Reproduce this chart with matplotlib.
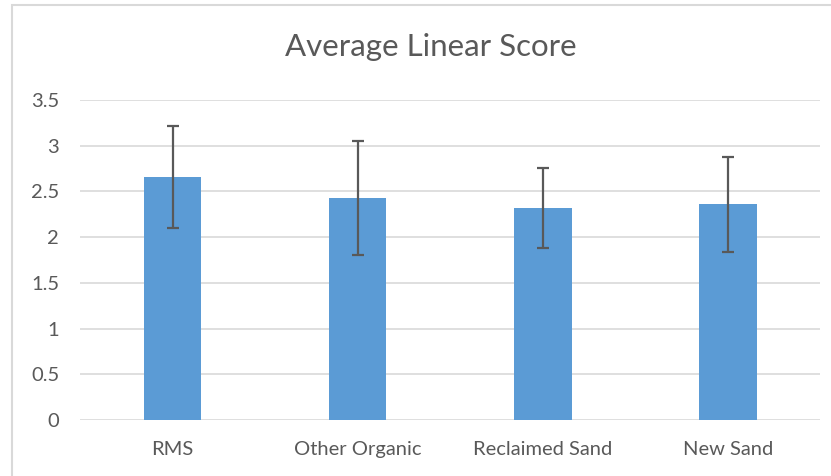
import matplotlib
matplotlib.use("Agg")
import matplotlib.pyplot as plt
from matplotlib.patches import Rectangle

categories = ["RMS", "Other Organic", "Reclaimed Sand", "New Sand"]
means = [2.66, 2.43, 2.32, 2.36]
errors = [0.56, 0.62, 0.44, 0.52]
yticks = [0, 0.5, 1, 1.5, 2, 2.5, 3, 3.5]

plt.rcParams["font.family"] = ["Lato", "DejaVu Sans"]
TXT = "#595959"

fig = plt.figure(figsize=(8.31, 4.76), dpi=100)
ax = fig.add_axes([80 / 831, 56 / 476, 740.5 / 831, 320 / 476])

# chart frame (light grey, runs off right and bottom edges)
fig.patches.append(Rectangle((12 / 831, -0.05), 1.0, (471 / 476) + 0.05,
                             transform=fig.transFigure, fill=False,
                             edgecolor="#d9d9d9", linewidth=1.5))

x = range(len(categories))
ax.bar(x, means, width=0.31, color="#5b9bd5", zorder=2)
ax.errorbar(x, means, yerr=errors, fmt="none", ecolor=TXT,
            elinewidth=1.6, capsize=4, capthick=1.6, zorder=3)

ax.set_xlim(-0.5, len(categories) - 0.5)
ax.set_ylim(0, 3.5)
ax.set_yticks(yticks)
ax.set_yticklabels([f"{v:g}" for v in yticks])
ax.set_xticks(list(x))
ax.set_xticklabels(categories)
ax.grid(axis="y", color="#d9d9d9", linewidth=1.2, zorder=0)
for s in ax.spines.values():
    s.set_visible(False)
ax.tick_params(length=0, colors=TXT, labelsize=14.5)
ax.tick_params(axis="y", pad=15)
ax.tick_params(axis="x", pad=15)

fig.text(431 / 831, 1 - 47 / 476, "Average Linear Score", ha="center",
         va="center", fontsize=22.5, color=TXT)

fig.savefig("out.png", dpi=100)
